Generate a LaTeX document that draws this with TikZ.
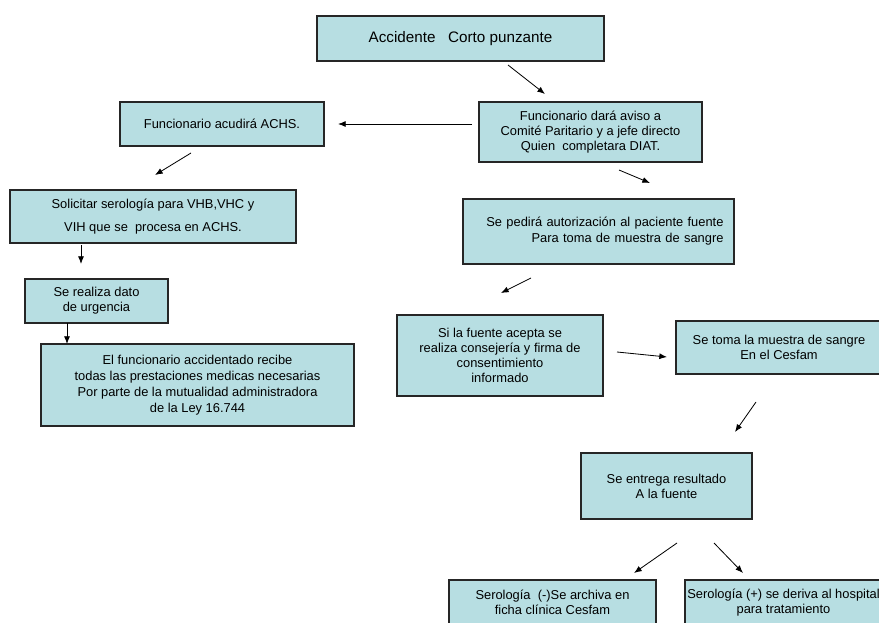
\documentclass[tikz,border=0pt]{standalone}
\usepackage{fontspec}
\setmainfont{Liberation Sans}
\usetikzlibrary{arrows.meta}
\definecolor{cajafondo}{RGB}{183,222,226}

\begin{document}
\begin{tikzpicture}[x = 0.03cm, y = -0.03cm,
	caja/.style = {draw = black!85, line width = 0.9pt, fill = cajafondo, align = center, inner sep = 2pt, font = \fontsize{11}{12.8}\selectfont},
	flecha/.style = {line width = 0.7pt, -{Latex[length = 2.3mm, width = 1.8mm]}}]

	\useasboundingbox (0,0) rectangle (879,622);

	% cajas
	\node [caja, minimum width = 8.61cm, minimum height = 1.35cm, font = \fontsize{13}{15}\selectfont] (accidente) at (460.5,38.5) {Accidente\ \ \ Corto punzante};
	\node [caja, minimum width = 6.69cm, minimum height = 1.8cm] (aviso) at (590.5,132) {Funcionario dará aviso a\\ Comité Paritario y a jefe directo\\ Quien\ \ completara DIAT.};
	\node [caja, minimum width = 6.12cm, minimum height = 1.32cm] (achs) at (222,124) {Funcionario acudirá ACHS.};
	\node [caja, minimum width = 8.58cm, minimum height = 1.59cm] (solicitar) at (153,216.5) {Solicitar serología para VHB,VHC y\\[7pt] VIH que se\ \ procesa en ACHS.};
	\node [caja, minimum width = 4.29cm, minimum height = 1.32cm] (urgencia) at (96.5,301) {Se realiza dato\\ de urgencia};
	\node [caja, minimum width = 9.39cm, minimum height = 2.46cm, font = \fontsize{11}{13.6}\selectfont] (prestaciones) at (197.5,385) {El funcionario accidentado recibe\\ todas las prestaciones medicas necesarias\\ Por parte de la mutualidad administradora\\ de la Ley 16.744};
	\node [caja, text width = 7.5cm, align = right, minimum width = 8.13cm, minimum height = 1.95cm, font = \fontsize{11}{13.6}\selectfont] (autorizacion) at (598.5,231.5) {Se pedirá autorización al paciente fuente\\ Para toma de muestra de sangre};
	\node [caja, minimum width = 6.18cm, minimum height = 2.43cm] (consejeria) at (500,355.5) {Si la fuente acepta se\\ realiza consejería y firma de\\ consentimiento\\ informado};
	\node [caja, minimum width = 6.18cm, minimum height = 1.59cm] (muestra) at (779,347.5) {Se toma la muestra de sangre\\ En el Cesfam};
	\node [caja, minimum width = 5.13cm, minimum height = 1.98cm] (resultado) at (666.5,486) {Se entrega resultado\\ A la fuente};
	\node [caja, minimum width = 6.21cm, minimum height = 1.35cm] (negativo) at (552.5,602.5) {Serología\ \ (-)Se archiva en\\ ficha clínica Cesfam};
	\node [caja, minimum width = 5.91cm, minimum height = 1.35cm] (positivo) at (783.5,602.5) {Serología (+) se deriva al hospital\\ para tratamiento};

	% extremos de las flechas
	\coordinate (desde1) at (508,65);   \coordinate (hasta1) at (545,94);
	\coordinate (desde2) at (472,124);  \coordinate (hasta2) at (338,124);
	\coordinate (desde3) at (191,153);  \coordinate (hasta3) at (155,175);
	\coordinate (desde4) at (81,245);   \coordinate (hasta4) at (81,264);
	\coordinate (desde5) at (67,323);   \coordinate (hasta5) at (67,344);
	\coordinate (desde6) at (619,170);  \coordinate (hasta6) at (650,183);
	\coordinate (desde7) at (531,278);  \coordinate (hasta7) at (501,293);
	\coordinate (desde8) at (617,352);  \coordinate (hasta8) at (667,357);
	\coordinate (desde9) at (756,402);  \coordinate (hasta9) at (735,432);
	\coordinate (desde10) at (677,543); \coordinate (hasta10) at (634,573);
	\coordinate (desde11) at (714,543); \coordinate (hasta11) at (743,573);

	% flechas
	\draw [flecha] (desde1) -- (hasta1);
	\draw [flecha] (desde2) -- (hasta2);
	\draw [flecha] (desde3) -- (hasta3);
	\draw [flecha] (desde4) -- (hasta4);
	\draw [flecha] (desde5) -- (hasta5);
	\draw [flecha] (desde6) -- (hasta6);
	\draw [flecha] (desde7) -- (hasta7);
	\draw [flecha] (desde8) -- (hasta8);
	\draw [flecha] (desde9) -- (hasta9);
	\draw [flecha] (desde10) -- (hasta10);
	\draw [flecha] (desde11) -- (hasta11);

\end{tikzpicture}
\end{document}
